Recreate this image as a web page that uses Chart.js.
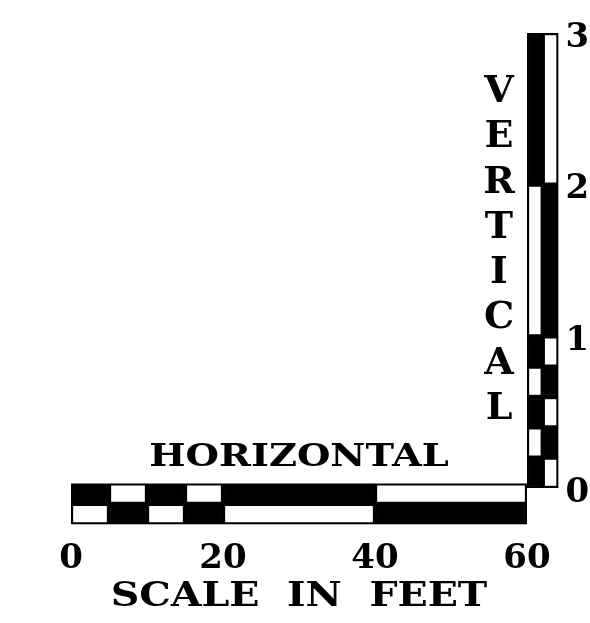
<!DOCTYPE html>
<html>
<head>
<meta charset="utf-8">
<script src="https://cdn.jsdelivr.net/npm/chart.js@4.4.0/dist/chart.umd.min.js"></script>
<style>
  html, body { margin: 0; padding: 0; background: #fff; }
  #wrap { position: relative; width: 590px; height: 623px; }
  #wrap canvas { position: absolute; left: 0; top: 0; }
  #vlabel {
    position: absolute; left: 479px; top: 66px; width: 40px;
    font: bold 38px "DejaVu Serif", serif; line-height: 45.3px;
    text-align: center; color: #000;
  }
</style>
</head>
<body>
<div id="wrap">
  <canvas id="horiz" width="590" height="623"></canvas>
  <canvas id="vert" width="590" height="623"></canvas>
  <div id="vlabel"></div>
</div>
<script>
// scale bar: feet along the bottom, vertical units up the side
const feetBreaks = [0, 5, 10, 15, 20, 40, 60];
const feetTicks = [0, 20, 40, 60];
const hRows = ['upper', 'lower'];

const vertBreaks = [0, 0.2, 0.4, 0.6, 0.8, 1, 2, 3];
const vertTicks = [0, 1, 2, 3];
const vCols = ['left', 'right'];
const vertLetters = ['V', 'E', 'R', 'T', 'I', 'C', 'A', 'L'];

const INK = '#000';
const PAPER = '#fff';
const FONT = '"DejaVu Serif", serif';

// one dataset per segment, lanes alternate black / white
function segmentSets(breaks, lanes) {
  const sets = [];
  for (let i = 0; i < breaks.length - 1; i++) {
    sets.push({
      data: lanes.map(() => [breaks[i], breaks[i + 1]]),
      backgroundColor: lanes.map((_, k) => (i + k) % 2 === 0 ? INK : PAPER),
      borderColor: INK,
      borderWidth: 2.5,
      borderSkipped: false,
      grouped: false,
      categoryPercentage: 1,
      barPercentage: 1
    });
  }
  return sets;
}

const common = {
  responsive: false,
  animation: false,
  devicePixelRatio: 1,
  plugins: { legend: { display: false }, tooltip: { enabled: false } }
};

// old expanded lettering: stretch the two titles sideways around the
// centre of the bar (tick numbers are drawn later, unstretched)
const wideTitles = {
  id: 'wideTitles',
  beforeDraw(chart) {
    const ctx = chart.ctx;
    const cx = (chart.chartArea.left + chart.chartArea.right) / 2;
    ctx.save();
    ctx.translate(cx, 0);
    ctx.scale(1.2, 1);
    ctx.translate(-cx, 0);
  },
  beforeDatasetsDraw(chart) { chart.ctx.restore(); }
};

new Chart(document.getElementById('horiz'), {
  type: 'bar',
  data: { labels: hRows, datasets: segmentSets(feetBreaks, hRows) },
  plugins: [wideTitles],
  options: {
    ...common,
    indexAxis: 'y',
    layout: { padding: { left: 71, right: 63, top: 438, bottom: 12 } },
    plugins: {
      ...common.plugins,
      title: {
        display: true,
        text: 'HORIZONTAL',
        fullSize: false,
        color: INK,
        font: { family: FONT, size: 32, weight: 'bold' },
        padding: { top: 0, bottom: 7 }
      }
    },
    scales: {
      y: { display: false },
      x: {
        type: 'linear',
        min: 0,
        max: 60,
        afterBuildTicks: s => { s.ticks = feetTicks.map(v => ({ value: v })); },
        grid: { display: false, drawTicks: false },
        border: { display: false },
        ticks: {
          z: 1,
          color: INK,
          padding: 21,
          maxRotation: 0,
          autoSkip: false,
          font: { family: FONT, size: 34, weight: 'bold', lineHeight: 0.8 }
        },
        title: {
          display: true,
          text: 'SCALE  IN  FEET',
          color: INK,
          padding: { top: 19, bottom: 0 },
          font: { family: FONT, size: 33, weight: 'bold', lineHeight: 0.8 }
        }
      }
    }
  }
});

new Chart(document.getElementById('vert'), {
  type: 'bar',
  data: { labels: vCols, datasets: segmentSets(vertBreaks, vCols) },
  options: {
    ...common,
    layout: { padding: { left: 527, right: 0, top: 33, bottom: 135 } },
    scales: {
      x: { display: false },
      y: {
        position: 'right',
        min: 0,
        max: 3,
        afterBuildTicks: s => { s.ticks = vertTicks.map(v => ({ value: v })); },
        grid: { display: false, drawTicks: false },
        border: { display: false },
        ticks: {
          color: INK,
          padding: 7,
          labelOffset: 5,
          font: { family: FONT, size: 34, weight: 'bold', lineHeight: 1 }
        }
      }
    }
  }
});

document.getElementById('vlabel').innerHTML = vertLetters.join('<br>');
</script>
</body>
</html>
